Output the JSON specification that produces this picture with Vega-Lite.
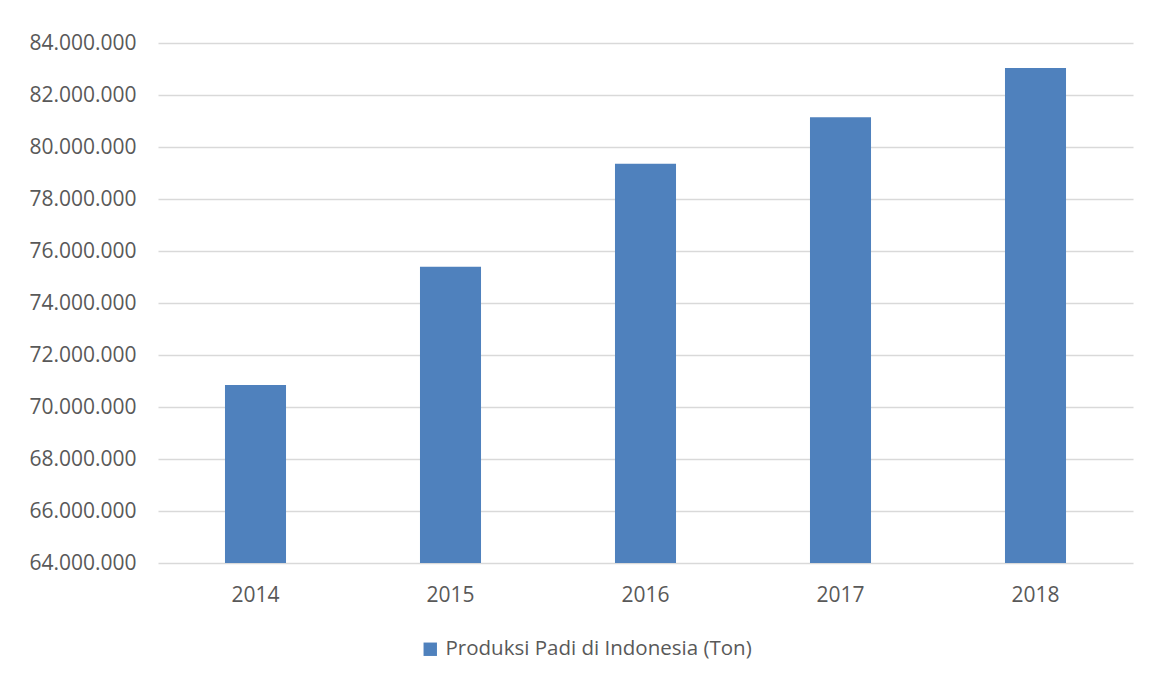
{
  "$schema": "https://vega.github.io/schema/vega-lite/v6.json",
  "width": 975,
  "height": 520,
  "autosize": {"type": "none"},
  "padding": {"left": 158, "top": 43, "right": 16, "bottom": 114},
  "background": "white",
  "config": {
    "locale": {"number": {"decimal": ",", "thousands": ".", "grouping": [3], "currency": ["Rp", ""]}},
    "view": {"stroke": null},
    "font": "Open Sans",
    "axis": {"labelFont": "Open Sans", "labelColor": "#595959", "labelFontSize": 21, "ticks": false, "domain": false, "title": null},
    "legend": {"labelFont": "Open Sans", "labelColor": "#595959", "labelFontSize": 20.5, "labelLimit": 600}
  },
  "data": {
    "values": [
      {"tahun": "2014", "produksi": 70846465, "seri": "Produksi Padi di Indonesia (Ton)"},
      {"tahun": "2015", "produksi": 75397841, "seri": "Produksi Padi di Indonesia (Ton)"},
      {"tahun": "2016", "produksi": 79354767, "seri": "Produksi Padi di Indonesia (Ton)"},
      {"tahun": "2017", "produksi": 81148617, "seri": "Produksi Padi di Indonesia (Ton)"},
      {"tahun": "2018", "produksi": 83037150, "seri": "Produksi Padi di Indonesia (Ton)"}
    ]
  },
  "mark": {"type": "bar"},
  "encoding": {
    "x": {
      "field": "tahun", "type": "nominal",
      "scale": {"paddingInner": 0.687, "paddingOuter": 0.3435},
      "axis": {"labelAngle": 0, "grid": false, "labelPadding": 21}
    },
    "y": {
      "field": "produksi", "type": "quantitative",
      "scale": {"domain": [64000000, 84000000], "nice": false, "zero": false},
      "axis": {
        "values": [64000000, 66000000, 68000000, 70000000, 72000000, 74000000, 76000000, 78000000, 80000000, 82000000, 84000000],
        "format": ",.0f", "grid": true, "gridColor": "#D9D9D9", "gridWidth": 1.3, "labelPadding": 22
      }
    },
    "y2": {"datum": 64000000},
    "color": {
      "field": "seri", "type": "nominal",
      "scale": {"range": ["#4F81BD"]},
      "legend": {
        "title": null, "orient": "none", "legendX": 262, "legendY": 596, "padding": 0,
        "symbolType": "square", "symbolSize": 180, "symbolStrokeWidth": 0, "symbolOpacity": 1, "labelOffset": 5
      }
    }
  }
}
